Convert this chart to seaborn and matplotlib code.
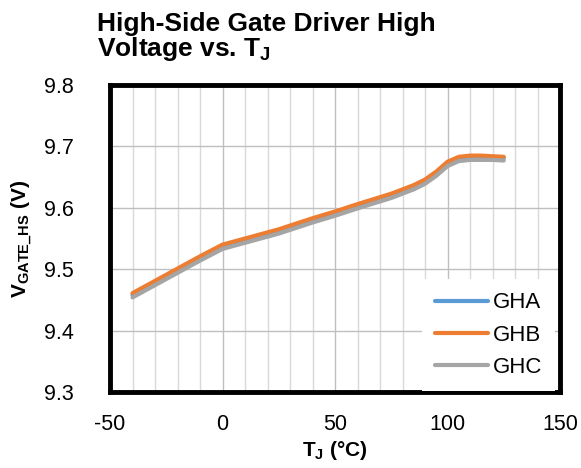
import matplotlib as mpl
import matplotlib.pyplot as plt
import numpy as np
import pandas as pd
import seaborn as sns
from matplotlib.ticker import MultipleLocator

sns.set_theme(style="white")
mpl.rcParams["font.family"] = ["Liberation Sans", "DejaVu Sans"]
mpl.rcParams["mathtext.fontset"] = "custom"
mpl.rcParams["mathtext.rm"] = "Liberation Sans"
mpl.rcParams["mathtext.bf"] = "Liberation Sans:bold"
mpl.rcParams["mathtext.it"] = "Liberation Sans:italic"
mpl.rcParams["axes.unicode_minus"] = False
mpl.rcParams["text.color"] = "black"
mpl.rcParams["axes.labelcolor"] = "black"

TEMP = [-40, -30, -20, -10, 0, 10, 25, 40, 50, 60, 75, 85, 90, 95, 100, 105, 110, 115, 120, 125]
GHA = [9.458, 9.478, 9.498, 9.518, 9.537, 9.547, 9.562, 9.580, 9.591, 9.603, 9.620, 9.634, 9.643, 9.656, 9.672, 9.680, 9.682, 9.682, 9.682, 9.681]
GHB = [9.461, 9.481, 9.501, 9.521, 9.540, 9.550, 9.565, 9.583, 9.594, 9.606, 9.623, 9.637, 9.646, 9.659, 9.675, 9.683, 9.685, 9.685, 9.684, 9.683]
GHC = [9.454, 9.474, 9.494, 9.514, 9.533, 9.543, 9.558, 9.576, 9.587, 9.599, 9.616, 9.630, 9.639, 9.652, 9.668, 9.676, 9.678, 9.678, 9.678, 9.677]
SERIES = ["GHA", "GHB", "GHC"]
COLORS = ["#5b9bd5", "#ed7d31", "#a5a5a5"]

df = pd.DataFrame({"T": TEMP, "GHA": GHA, "GHB": GHB, "GHC": GHC}).melt(
    id_vars="T", var_name="series", value_name="V"
)

W, H = 581, 468
fig, ax = plt.subplots(figsize=(W / 100, H / 100), dpi=100)
# axes box in pixels: x 110..560, y 85..392
fig.subplots_adjust(left=110 / W, right=560 / W, top=1 - 85 / H, bottom=1 - 392 / H)

ax.xaxis.set_major_locator(MultipleLocator(50))
ax.xaxis.set_minor_locator(MultipleLocator(10))
ax.yaxis.set_major_locator(MultipleLocator(0.1))
ax.grid(which="minor", axis="x", color="#d9d9d9", lw=1.0)
ax.grid(which="major", axis="x", color="#bfbfbf", lw=1.0)
ax.grid(which="major", axis="y", color="#bfbfbf", lw=1.0)
ax.set_axisbelow(True)

sns.lineplot(
    data=df, x="T", y="V", hue="series", hue_order=SERIES,
    palette=dict(zip(SERIES, COLORS)), lw=3, ax=ax, legend=True,
)

ax.set_xlim(-50, 150)
ax.set_ylim(9.3, 9.8)
yt = np.arange(9.3, 9.81, 0.1)
ax.set_yticks(yt)
ax.set_yticklabels([f"{v:.1f}" for v in yt])

for sp in ax.spines.values():
    sp.set_visible(True)
    sp.set_color("black")
    sp.set_linewidth(3.5)

ax.tick_params(axis="both", which="both", length=0, labelsize=15.5, colors="black")
ax.tick_params(axis="y", pad=26)
ax.tick_params(axis="x", pad=16)

ax.set_xlabel(r"$\mathbf{T_J}$ (°C)", fontsize=15, fontweight="bold", labelpad=3)
ax.set_ylabel(r"$\mathbf{V_{GATE\_HS}}$ (V)", fontsize=15, fontweight="bold", labelpad=7)

fig.text(97 / W, 1 - 12 / H, "High-Side Gate Driver High\n" + r"Voltage vs. $\mathbf{T_J}$",
         fontsize=19, fontweight="bold", ha="left", va="top", linespacing=0.95)

leg = ax.legend(loc="lower right", bbox_to_anchor=(0.975, 0.025), frameon=True,
                fontsize=16, handlelength=2.4, borderaxespad=0, labelspacing=0.5,
                handletextpad=0.2, borderpad=0.3)
leg.get_frame().set_edgecolor("white")
leg.get_frame().set_facecolor("white")
leg.get_frame().set_alpha(1)
leg.get_frame().set_linewidth(0)
leg.get_frame().set_boxstyle("square", pad=0.3)
for line in leg.get_lines():
    line.set_linewidth(3)

fig.savefig("out.png", dpi=100)
